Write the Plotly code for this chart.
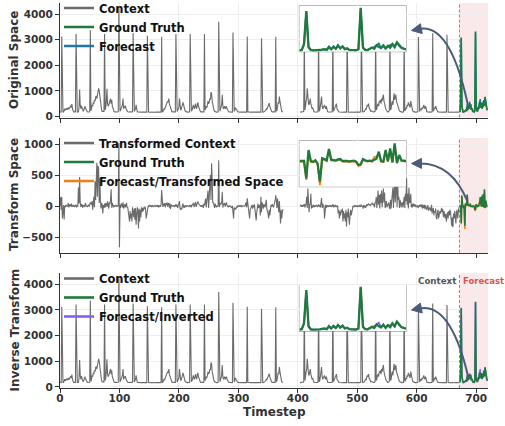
import plotly.graph_objects as go

# ---------------- data ----------------
timestep_context = list(range(672))
timestep_forecast = list(range(672, 720))

N = None
context_original = [
    180, 190, 170, 3125, 200, 180, 170, 260, 300, 240, 280, 320, 260, 300, 350, 280, 330, 380, 420, 350, 480, 300, 200, 180,
    180, 170, 175, 3215, 200, 180, 170, 180, 350, 1050, 450, 300, 420, 350, 280, 200, 250, 380, 400, 320, 250, 200, 180, 175,
    180, 175, 180, 3370, 220, 300, 450, 400, 550, 500, 650, 600, 750, 800, 700, 900, 950, 1100, 1000, 750, 500, 350, 250, 200,
    190, 180, 200, 3215, 250, 350, 600, 1080, 500, 400, 450, 550, 600, 700, 500, 650, 400, 300, 250, 200, 180, 190, 180, 175,
    180, 175, 185, 4227, 220, 200, 250, 300, 350, 450, 700, 300, 400, 350, 420, 300, 250, 200, 180, 175, 180, 170, 180, 175,
    180, 175, 180, 3255, 200, 190, 250, 300, 450, 200, 180, 175, 170, 175, 170, 170, 165, 170, 170, 165, 170, 165, 170, 170,
    170, 165, 170, 3150, 180, 170, 165, 170, 165, 170, 170, 165, 170, 165, 170, 170, 165, 170, 165, 170, 170, 165, 170, 168,
    170, 168, 170, 3110, 190, 180, 250, 300, 280, 350, 400, 450, 500, 600, 550, 700, 500, 400, 300, 250, 200, 180, 175, 170,
    170, 175, 180, 3215, 200, 190, 250, 300, 350, 700, 300, 250, 280, 350, 400, 550, 450, 300, 250, 200, 180, 175, 170, 170,
    170, 175, 180, 3215, 220, 200, 250, 300, 450, 350, 300, 400, 500, 350, 300, 450, 550, 400, 300, 250, 200, 180, 175, 170,
    170, 175, 180, 3215, 250, 300, 400, 350, 450, 600, 500, 550, 700, 650, 950, 900, 600, 400, 300, 250, 200, 180, 175, 170,
    170, 175, 180, 3700, 220, 200, 300, 350, 500, 850, 400, 300, 350, 400, 300, 350, 400, 300, 250, 200, 180, 175, 170, 170,
    170, 175, 170, 3280, 200, 190, 250, 350, 300, 250, 200, 180, 175, 170, 170, 165, 170, 165, 170, 170, 165, 170, 165, 170,
    170, 168, 170, 3125, 180, 170, 165, 170, 165, 170, 170, 165, 170, 165, 170, 170, 165, 170, 165, 170, 170, 165, 170, 168,
    170, 175, 170, 3050, 180, 175, 170, 180, 200, 220, 250, 300, 280, 350, 400, 450, 520, 380, 300, 250, 200, 180, 175, 170,
    170, 175, 180, 3110, 200, 250, 400, 550, 500, 780, 600, 400, 300, 200, 180, 170, N, N, N, N, N, N, N, N,
    N, N, N, N, N, N, N, N, N, N, N, N, N, N, N, N, N, N, N, N, 170, 175, 170, 175,
    175, 180, 190, 3150, 250, 400, 600, 700, 1100, 650, 500, 450, 600, 700, 500, 400, 300, 350, 250, 200, 180, 175, 170, 170,
    170, 175, 180, 3200, 200, 250, 400, 600, 780, 400, 300, 350, 400, 450, 350, 300, 400, 250, 200, 180, 175, 170, 170, 170,
    170, 175, 180, 3250, 200, 250, 300, 350, 450, 500, 300, 250, 200, 180, 175, 170, 170, 165, 170, 170, 165, 170, 168, 170,
    170, 168, 170, 3100, 175, 170, 165, 170, 165, 170, 170, 165, 170, 165, 170, 170, 165, 170, 165, 170, 170, 165, 170, 168,
    170, 175, 180, 3300, 190, 180, 175, 180, 200, 250, 300, 280, 350, 450, 400, 500, 350, 300, 250, 200, 220, 200, 180, 175,
    180, 190, 200, 3250, 250, 300, 450, 500, 400, 600, 550, 650, 500, 700, 600, 750, 850, 600, 450, 400, 300, 250, 200, 180,
    180, 200, 220, 3150, 250, 300, 500, 600, 450, 750, 900, 650, 800, 850, 600, 500, 400, 300, 250, 220, 200, 180, 175, 170,
    170, 175, 180, 3200, 220, 250, 350, 300, 450, 400, 550, 500, 400, 350, 600, 450, 300, 250, 200, 180, 175, 170, 170, 170,
    170, 175, 180, 3100, 200, 190, 250, 300, 250, 350, 300, 400, 450, 350, 300, 400, 250, 200, 180, 175, 170, 170, 165, 170,
    170, 175, 180, 3250, 200, 250, 350, 300, 400, 300, 250, 200, 180, 175, 170, 170, 165, 170, 170, 165, 170, 170, 165, 170,
    170, 168, 170, 3190, 175, 170, 165, 170, 165, 170, 170, 165, 170, 165, 170, 170, 165, 170, 165, 170, 170, 165, 170, 168,
]

context_transformed = [
    0, 140, -60, 150, -200, -120, 15, -215, 10, -15, 20, 5, -10, 15, 50, -20, 10, 30, -5, 40, -15, 10, 20, -10,
    5, -10, 15, 25, -20, 10, -5, 300, 40, 470, 60, -15, 30, 20, -25, 10, 5, -15, 20, 50, -10, 5, -15, 10,
    20, -10, 30, 60, 40, 20, 80, -60, 50, 150, -20, 400, 100, 550, 700, 150, 650, 600, 50, 450, 100, -40, 50, 20,
    -120, 15, -30, 40, -20, 50, 30, -15, 75, 20, -40, 60, 25, 100, 270, -25, 50, 15, -20, 10, -10, 5, 15, -5,
    10, -10, 20, 1015, -666, 20, -30, 40, 30, -20, 60, -40, 20, 30, -20, 10, 50, -30, -20, -100, -150, -250, -80, -200,
    -120, -250, -20, -100, -180, -40, -220, -30, -300, -150, -20, -80, -360, -40, -250, -60, -180, -20, -100, -30, -80, -20, -50, -10,
    -60, -200, -120, -30, -20, 10, -10, 20, -5, 10, -15, 5, 10, -10, 5, 0, 10, -5, 5, 10, -10, 15, -20, 10,
    15, -10, 20, 258, 30, -15, 40, 10, 50, -20, 45, 15, 60, -10, 30, 50, -25, 40, -45, 20, 10, 5, -5, 10,
    5, -15, 10, 30, -10, 20, -30, 15, 40, 80, -40, -60, -30, -50, 15, 40, -20, -30, 10, -15, 5, -5, 10, 0,
    5, -10, 15, 0, 10, -20, 25, 15, 50, 30, -15, 40, 65, -10, 20, 45, 75, 40, 20, 10, 5, -10, 15, -5,
    20, -30, 40, 10, 60, 120, -20, 50, 150, 250, -30, 100, 300, 500, 100, 690, 450, 50, 60, 20, -30, 40, 10, -20,
    5, -10, 15, 740, -15, 25, 50, 30, 60, 230, -25, 40, 20, 50, -10, 30, 60, 15, -5, -20, 10, -5, 5, -10,
    -10, -30, 5, -90, -200, -20, -60, -30, -50, -15, -20, 10, -10, 5, -5, 10, -5, 5, -10, 5, 5, -5, 5, 0,
    30, 60, -20, 125, 40, -30, -80, -200, -60, -30, -10, 20, -40, 10, -20, 30, -60, -150, -230, -100, 20, 40, -30, 10,
    20, -150, 150, -100, 60, 20, -40, 30, 10, -20, 40, 100, -50, -80, -120, -200, -60, -150, -30, 20, -10, 30, 10, -20,
    10, 40, 100, 175, 60, -30, 120, -40, -100, 80, -150, -280, -60, -200, -100, -50, N, N, N, N, N, N, N, N,
    N, N, N, N, N, N, N, N, N, N, N, N, N, N, N, N, N, N, N, N, 0, 20, -10, 15,
    -10, 15, 5, 30, -20, 10, 40, 150, -30, 285, 50, -100, 25, 30, 200, -40, 15, -25, 10, 20, -15, 5, -10, 15,
    5, -15, 10, 20, -10, 15, -20, 30, 130, -30, 40, -15, 10, -200, -40, 20, -30, 10, 5, -15, 10, -5, 15, -10,
    10, -5, 15, 30, -20, 10, -15, 20, -10, 5, -15, 10, -120, -60, -200, -90, -150, -60, -100, -40, -250, -80, -200, -120,
    -250, -60, -330, -100, -180, -40, -200, -300, -120, -60, -150, -80, -10, 5, -20, 10, -5, 15, -10, 5, -15, 10, -5, 5,
    10, -15, 20, 25, -10, 5, -40, 15, -20, 10, -30, 15, 20, 10, 30, 40, 15, 30, 10, 20, 25, 50, 30, 15,
    40, -20, 60, 50, 150, -30, 80, 250, 20, 180, -40, 200, 50, 250, -20, 200, 285, 60, 220, -30, 60, 80, -20, 20,
    30, 60, -20, -50, 100, -40, 80, 200, 300, -30, 250, 450, 60, 300, 500, -20, 400, 100, 150, -30, 100, 60, -20, 40,
    60, -20, 100, 150, -30, 200, 80, 450, 20, 200, -40, 300, 50, 60, 200, -20, 30, -20, 40, 20, -10, 30, 10, -20,
    5, 10, -15, -30, 15, -10, 25, 10, -20, 30, -40, 15, -30, 20, -50, 10, -40, -60, -25, 15, -75, -30, -20, -50,
    -80, 20, -120, -60, -30, -150, -80, -100, -40, -180, -215, -100, -60, -200, -150, -80, -120, -60, -30, -100, -50, -180, -80, -150,
    -200, -120, -250, -160, -100, -200, -80, -150, -60, -100, -250, -320, -180, -340, -120, -200, -80, -150, -280, -100, -60, -200, -40, -20,
]

truth_original = [
    180, 210, 650, 3085, 420, 200, 180, 175, 185, 200, 230, 260, 210, 400, 260, 450, 300, 520, 330, 470, 260, 320, 210, 190,
    180, 185, 260, 3320, 380, 210, 195, 260, 380, 300, 560, 420, 350, 540, 310, 500, 360, 640, 420, 770, 520, 360, 300, 250,
]
forecast_original = [
    175, 200, 600, 3040, 380, 195, 178, 172, 182, 195, 225, 250, 205, 470, 250, 440, 290, 580, 320, 460, 255, 310, 205, 188,
    178, 182, 240, 3280, 360, 205, 192, 255, 370, 420, 540, 680, 340, 520, 300, 490, 560, 620, 410, 740, 500, 350, 295, 245,
]
truth_transformed = [
    0, 5, 0, -267, 169, 0, -10, 10, -40, -318, 41, 30, 10, 185, 20, 15, 10, 25, 30, 0, 5, 0, -5, 0,
    5, -10, -60, -50, 30, 10, 0, 5, 0, 20, 35, 144, 0, -10, 170, -5, 195, -20, 272, -30, 92, 10, 0, 0,
]
forecast_transformed = [
    -10, -5, -15, -292, 150, -15, -20, 0, -50, -370, 30, 20, 0, 170, 10, 5, 0, 15, 20, -10, -5, -10, -15, -10,
    -5, -20, -75, -65, 20, 0, -10, 0, -10, 60, 70, 120, -10, -15, 150, -10, 170, -25, 240, -35, 80, 0, -10, -10,
]
forecast_inverted = [
    178, 205, 620, 3060, 400, 198, 178, 172, 183, 196, 226, 252, 206, 480, 252, 445, 292, 500, 322, 462, 256, 312, 206, 189,
    179, 183, 245, 3290, 365, 206, 193, 256, 372, 430, 545, 690, 342, 522, 302, 492, 470, 625, 412, 745, 505, 352, 296, 246,
]

x_ticks = [0, 100, 200, 300, 400, 500, 600, 700]
y_ticks_original = [0, 1000, 2000, 3000, 4000]
y_ticks_transformed = [-500, 0, 500, 1000]
forecast_start = 672
x_end = 720

# ---------------- styling ----------------
W, H = 505, 426
ML, MR, MT, MB = 60, 17, 3, 38
FONT = "DejaVu Sans"
CTX = "#6b6b6b"
GT = "#1f7a3c"
BLUE = "#1f77b4"
ORANGE = "#f0800f"
PURPLE = "#8b5cf6"
SHADE = "#fbe9e9"
RED = "rgba(210,80,80,0.85)"
ARROW = "#4b5b7a"
TXT = "#333333"


def px(x):
    return (x - ML) / (W - ML - MR)


def py(y):
    return (H - MB - y) / (H - MT - MB)


panel_y = {1: [py(117.5), py(3)], 2: [py(252.7), py(138)], 3: [py(388), py(273.3)]}
inset_x = [px(299.5), px(406)]
inset_y = {1: [py(51.7), py(6)], 2: [py(186.7), py(141)], 3: [py(331), py(285)]}

fig = go.Figure()


def line(x, y, color, width, xa, ya):
    fig.add_trace(go.Scatter(x=x, y=y, mode="lines", line=dict(color=color, width=width),
                             xaxis=xa, yaxis=ya, showlegend=False, hoverinfo="skip"))


def proxy(name, color, legend):
    fig.add_trace(go.Scatter(x=[None], y=[None], mode="lines", name=name,
                             line=dict(color=color, width=2.6), legend=legend,
                             xaxis="x", yaxis="y"))


# Panel 1: original space
line(timestep_context, context_original, CTX, 1.1, "x", "y")
line(timestep_forecast, forecast_original, BLUE, 1.5, "x", "y")
line(timestep_forecast, truth_original, GT, 1.6, "x", "y")
# Panel 2: transformed space
line(timestep_context, context_transformed, CTX, 1.1, "x2", "y2")
line(timestep_forecast, forecast_transformed, ORANGE, 1.5, "x2", "y2")
line(timestep_forecast, truth_transformed, GT, 1.6, "x2", "y2")
# Panel 3: inverse transform
line(timestep_context, context_original, CTX, 1.1, "x3", "y3")
line(timestep_forecast, forecast_inverted, PURPLE, 1.5, "x3", "y3")
line(timestep_forecast, truth_original, GT, 1.6, "x3", "y3")
# Zoomed insets of the forecast window
line(timestep_forecast, forecast_original, BLUE, 1.8, "x4", "y4")
line(timestep_forecast, truth_original, GT, 2.3, "x4", "y4")
line(timestep_forecast, forecast_transformed, ORANGE, 1.8, "x5", "y5")
line(timestep_forecast, truth_transformed, GT, 2.3, "x5", "y5")
line(timestep_forecast, forecast_inverted, PURPLE, 1.8, "x6", "y6")
line(timestep_forecast, truth_original, GT, 2.3, "x6", "y6")

proxy("Context", CTX, "legend")
proxy("Ground Truth", GT, "legend")
proxy("Forecast", BLUE, "legend")
proxy("Transformed Context", CTX, "legend2")
proxy("Ground Truth", GT, "legend2")
proxy("Forecast/Transformed Space", ORANGE, "legend2")
proxy("Context", CTX, "legend3")
proxy("Ground Truth", GT, "legend3")
proxy("Forecast/Inverted", PURPLE, "legend3")

tickfont = dict(family=FONT, size=10.5, color=TXT, weight="bold")


def xaxis(anchor, labels):
    return dict(domain=[0, 1], anchor=anchor, range=[0, x_end], tickvals=x_ticks,
                showticklabels=labels, ticks="outside", ticklen=4, tickwidth=1, tickcolor=TXT,
                ticklabelstandoff=-4,
                showline=True, linecolor=TXT, linewidth=1, showgrid=True, gridcolor="#eeeeee",
                gridwidth=0.8, zeroline=False, tickfont=tickfont)


def yaxis(anchor, dom, rng, ticks):
    return dict(domain=dom, anchor=anchor, range=rng, tickvals=ticks, ticks="outside",
                ticklen=4, tickwidth=1, tickcolor=TXT, showline=True, linecolor=TXT, linewidth=1,
                showgrid=True, gridcolor="#eeeeee", gridwidth=0.8, zeroline=False, tickfont=tickfont)


def inset_axes(anchor, dom, rng):
    return dict(domain=dom, anchor=anchor, range=rng, visible=False, fixedrange=True)


orig_range = [-40, 4430]
trans_range = [-752, 1098]
legend_font = dict(family=FONT, size=11.5, color="#111111", weight="bold")


def legend(y):
    return dict(x=px(59), y=py(y), xanchor="left", yanchor="top", bgcolor="rgba(0,0,0,0)",
                font=legend_font, itemwidth=30, tracegroupgap=0)


shapes = []
annotations = []
for i, (xa, ya) in enumerate([("x", "y"), ("x2", "y2"), ("x3", "y3")], start=1):
    shapes.append(dict(type="rect", xref=xa, yref=f"{ya} domain", x0=forecast_start, x1=x_end,
                       y0=0, y1=1, fillcolor=SHADE, line=dict(width=0), layer="below"))
    shapes.append(dict(type="line", xref=xa, yref=f"{ya} domain", x0=forecast_start, x1=forecast_start,
                       y0=0, y1=1, line=dict(color=RED, width=1, dash="3px,2px")))
for k in (4, 5, 6):
    shapes.append(dict(type="rect", xref=f"x{k} domain", yref=f"y{k} domain", x0=0, x1=1, y0=0, y1=1,
                       fillcolor="#fcecec", line=dict(color="#a3a3a3", width=1.3), layer="below"))

# Curved arrows pointing from the forecast window to each inset
arrow_geom = [
    ((468.5, 108), (451, 23), (411.5, 30.5)),
    ((467.5, 201.5), (452, 163), (411.5, 163.5)),
    ((468.5, 378), (451, 302), (411.5, 310)),
]
for start, ctrl, tip in arrow_geom:
    dx, dy = tip[0] - ctrl[0], tip[1] - ctrl[1]
    n = (dx * dx + dy * dy) ** 0.5
    ux, uy = dx / n, dy / n
    hl, hw = 10, 5
    bx, by = tip[0] - ux * hl, tip[1] - uy * hl
    path = (f"M {px(start[0])},{py(start[1])} Q {px(ctrl[0])},{py(ctrl[1])} "
            f"{px(bx + ux * 2)},{py(by + uy * 2)}")
    shapes.append(dict(type="path", xref="paper", yref="paper", path=path,
                       line=dict(color=ARROW, width=2)))
    w1 = (bx - uy * hw, by + ux * hw)
    w2 = (bx + uy * hw, by - ux * hw)
    head = (f"M {px(tip[0])},{py(tip[1])} L {px(w1[0])},{py(w1[1])} "
            f"L {px(w2[0])},{py(w2[1])} Z")
    shapes.append(dict(type="path", xref="paper", yref="paper", path=head,
                       fillcolor=ARROW, line=dict(color=ARROW, width=1)))

title_font = dict(family=FONT, size=12, color=TXT, weight="bold")
for text, yc in [("Original Space", 60), ("Transform Space", 195), ("Inverse Transform", 330.5)]:
    annotations.append(dict(text=text, x=px(14), y=py(yc), xref="paper", yref="paper",
                            textangle=-90, showarrow=False, font=title_font,
                            xanchor="center", yanchor="middle"))
annotations.append(dict(text="Timestep", x=px(274), y=py(412), xref="paper", yref="paper",
                        showarrow=False, font=title_font, xanchor="center", yanchor="middle"))
annotations.append(dict(text="Context", x=px(457.5), y=py(281), xref="paper", yref="paper",
                        showarrow=False, xanchor="right", yanchor="middle",
                        font=dict(family=FONT, size=8.7, color="#555555", weight="bold")))
annotations.append(dict(text="Forecast", x=px(461), y=py(281), xref="paper", yref="paper",
                        showarrow=False, xanchor="left", yanchor="middle",
                        font=dict(family=FONT, size=8.5, color="#d9534f", weight="bold")))

fig.update_layout(
    width=W, height=H, margin=dict(l=ML, r=MR, t=MT, b=MB, pad=0, autoexpand=False),
    paper_bgcolor="white", plot_bgcolor="white",
    font=dict(family=FONT, color=TXT),
    xaxis=xaxis("y", False), yaxis=yaxis("x", panel_y[1], orig_range, y_ticks_original),
    xaxis2=xaxis("y2", False), yaxis2=yaxis("x2", panel_y[2], trans_range, y_ticks_transformed),
    xaxis3=xaxis("y3", True), yaxis3=yaxis("x3", panel_y[3], orig_range, y_ticks_original),
    xaxis4=inset_axes("y4", inset_x, [forecast_start, x_end - 1]),
    yaxis4=inset_axes("x4", inset_y[1], [75, 3460]),
    xaxis5=inset_axes("y5", inset_x, [forecast_start, x_end - 1]),
    yaxis5=inset_axes("x5", inset_y[2], [-395, 308]),
    xaxis6=inset_axes("y6", inset_x, [forecast_start, x_end - 1]),
    yaxis6=inset_axes("x6", inset_y[3], [75, 3460]),
    legend=legend(-6.5), legend2=legend(128.5), legend3=legend(264),
    shapes=shapes, annotations=annotations, showlegend=True,
)

fig.write_html("out.html")
